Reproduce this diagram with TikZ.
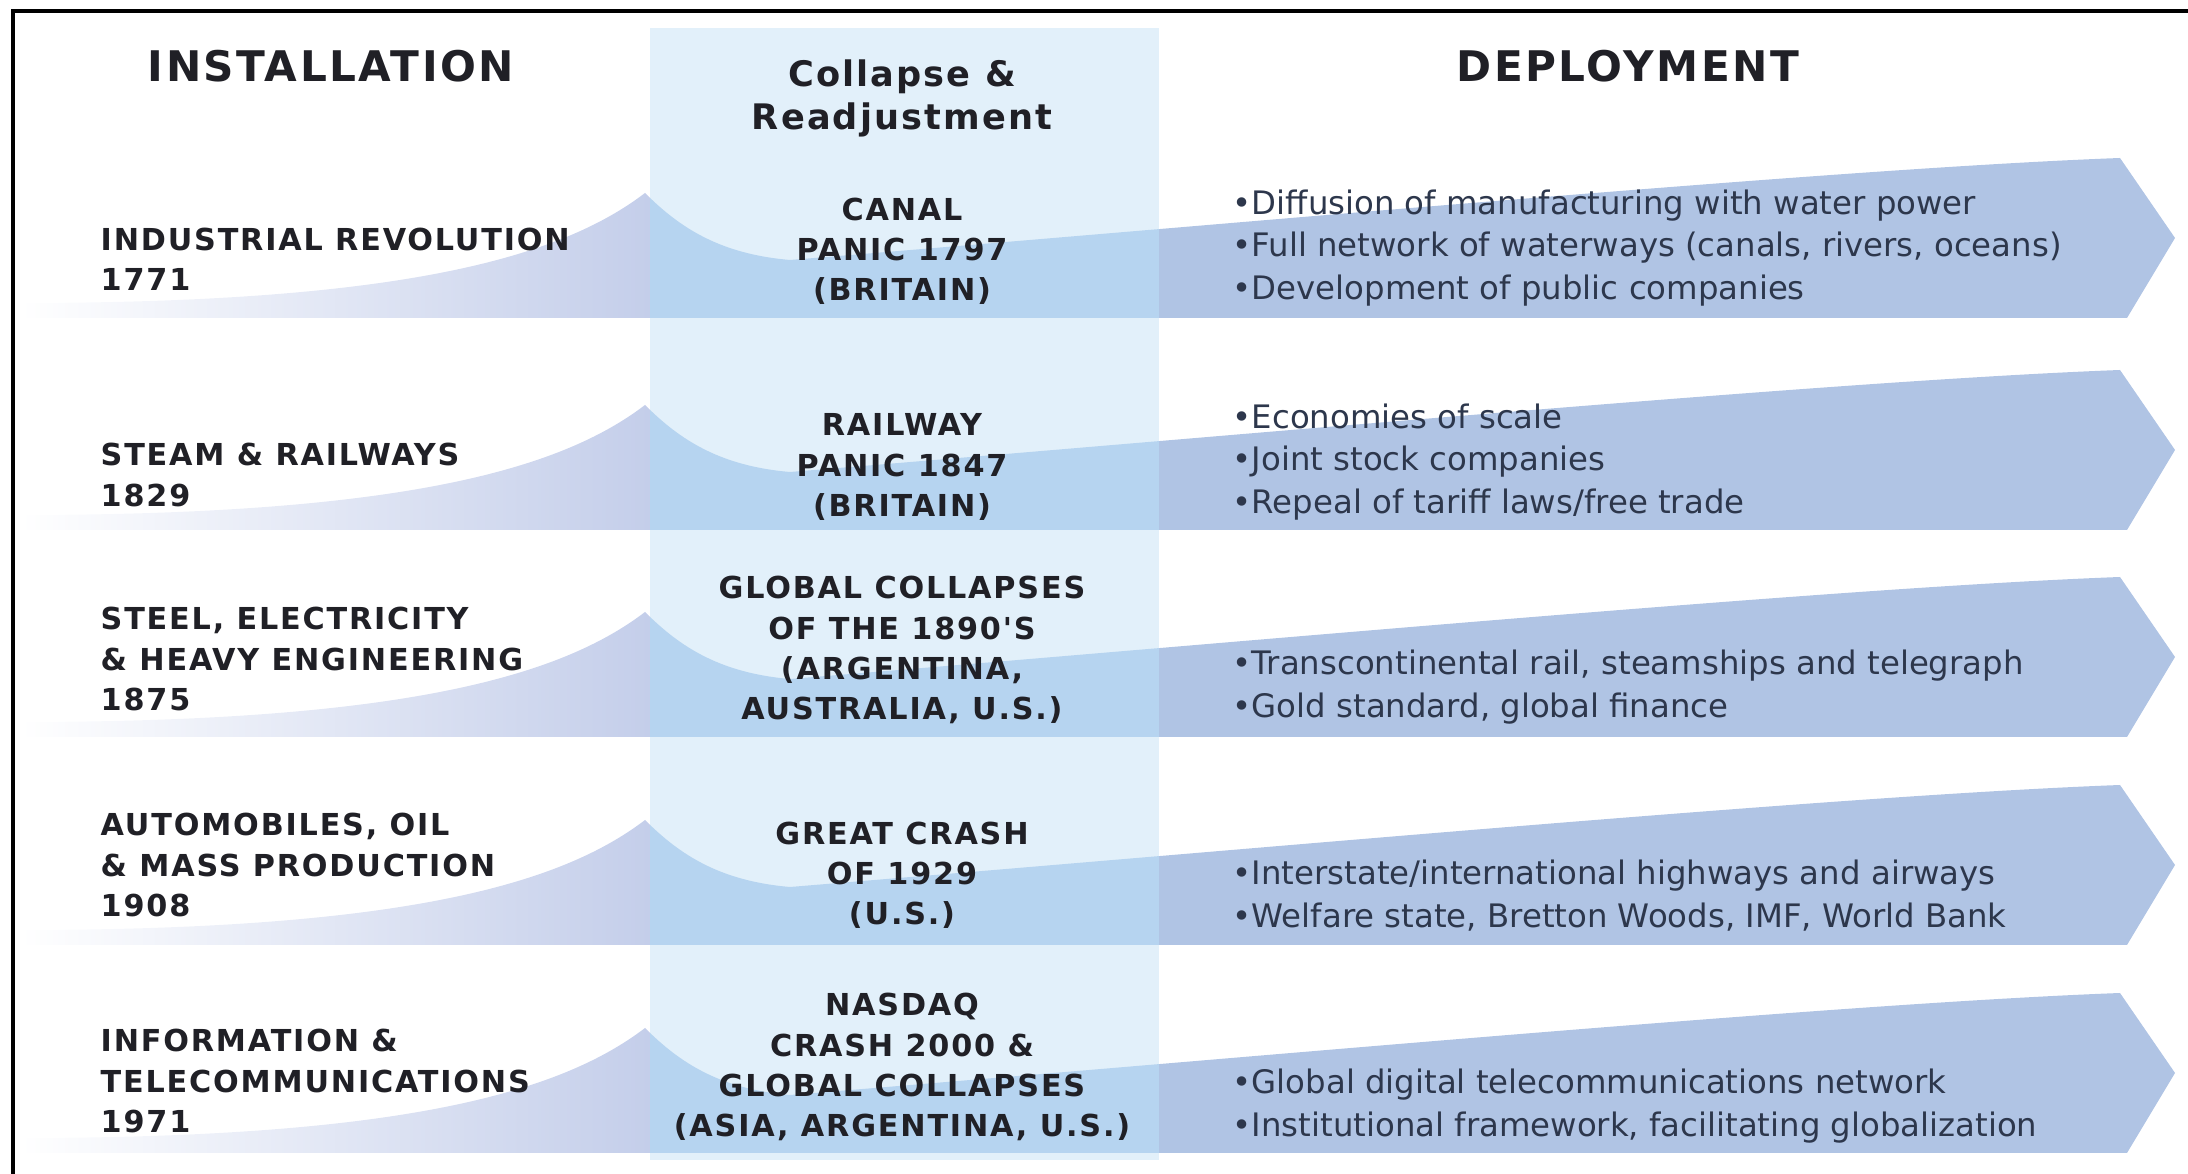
\documentclass[tikz,border=0pt]{standalone}
\usepackage{fontspec}
\setmainfont{DejaVu Sans}
\newfontfamily\capsfont[LetterSpace=6]{DejaVu Sans}

\definecolor{colbg}{RGB}{226,240,250}
\definecolor{bandlav}{RGB}{196,206,234}
\definecolor{bandsky}{RGB}{182,212,240}
\definecolor{bandperi}{RGB}{176,196,228}
\definecolor{labeltxt}{RGB}{32,32,38}
\definecolor{deptxt}{RGB}{45,55,76}

\newcommand{\wavepath}{(20,-15) .. controls (400,-15) and (560,-60) .. (645,-125)
  .. controls (680,-90) and (720,-64) .. (790,-58)
  .. controls (1300,-100) and (1850,-150) .. (2120,-160)
  -- (2175,-80) -- (2127,0) -- (20,0) -- cycle}

\tikzset{
  headtext/.style={text=labeltxt, inner sep=0pt,
    font=\capsfont\bfseries\fontsize{12}{14}\selectfont},
  eratext/.style={anchor=west, align=left, inner sep=0pt, text=labeltxt,
    font=\capsfont\bfseries\fontsize{8.6}{11.4}\selectfont},
  crashtext/.style={align=center, inner sep=0pt, text=labeltxt,
    font=\capsfont\bfseries\fontsize{8.6}{11.4}\selectfont},
  deploytext/.style={anchor=west, align=left, inner sep=0pt, text=deptxt,
    font=\fontsize{9.2}{12.2}\selectfont}
}

\begin{document}
\begin{tikzpicture}[x=0.01cm,y=-0.01cm]
\useasboundingbox (0,0) rectangle (2188,1174);
\fill[colbg] (650,28) rectangle (1159,1160);
\foreach \b in {318,530,737,945,1153}{
  \begin{scope}[shift={(0,\b)}]
  \clip \wavepath;
  \shade[left color=white, right color=bandlav] (20,-170) rectangle (650,0);
  \fill[bandsky] (650,-170) rectangle (1159,0);
  \fill[bandperi] (1159,-170) rectangle (2180,0);
  \end{scope}
}
\draw[line width=0.9pt] (13,1174) -- (13,11) -- (2188,11);

\node[headtext] (install) at (331,66) {INSTALLATION};
\node[headtext, align=center, font=\capsfont\bfseries\fontsize{10}{12.2}\selectfont] (collapse) at (902,98) {Collapse \&\\Readjustment};
\node[headtext] (deploy) at (1628,66) {DEPLOYMENT};

\node[eratext] (era1) at (100,259) {INDUSTRIAL REVOLUTION\\1771};
\node[crashtext] (crash1) at (902,251) {CANAL\\PANIC 1797\\(BRITAIN)};
\node[deploytext] (dep1) at (1232,248) {•Diffusion of manufacturing with water power\\•Full network of waterways (canals, rivers, oceans)\\•Development of public companies};

\node[eratext] (era2) at (100,475) {STEAM \& RAILWAYS\\1829};
\node[crashtext] (crash2) at (902,467) {RAILWAY\\PANIC 1847\\(BRITAIN)};
\node[deploytext] (dep2) at (1232,462) {•Economies of scale\\•Joint stock companies\\•Repeal of tariff laws/free trade};

\node[eratext] (era3) at (100,659) {STEEL, ELECTRICITY\\\& HEAVY ENGINEERING\\1875};
\node[crashtext] (crash3) at (902,650) {GLOBAL COLLAPSES\\OF THE 1890'S\\(ARGENTINA,\\AUSTRALIA, U.S.)};
\node[deploytext] (dep3) at (1232,687) {•Transcontinental rail, steamships and telegraph\\•Gold standard, global finance};

\node[eratext] (era4) at (100,865) {AUTOMOBILES, OIL\\\& MASS PRODUCTION\\1908};
\node[crashtext] (crash4) at (902,875) {GREAT CRASH\\OF 1929\\(U.S.)};
\node[deploytext] (dep4) at (1232,896) {•Interstate/international highways and airways\\•Welfare state, Bretton Woods, IMF, World Bank};

\node[eratext] (era5) at (100,1081) {INFORMATION \&\\TELECOMMUNICATIONS\\1971};
\node[crashtext] (crash5) at (902,1067) {NASDAQ\\CRASH 2000 \&\\GLOBAL COLLAPSES\\(ASIA, ARGENTINA, U.S.)};
\node[deploytext] (dep5) at (1232,1106) {•Global digital telecommunications network\\•Institutional framework, facilitating globalization};
\end{tikzpicture}
\end{document}
